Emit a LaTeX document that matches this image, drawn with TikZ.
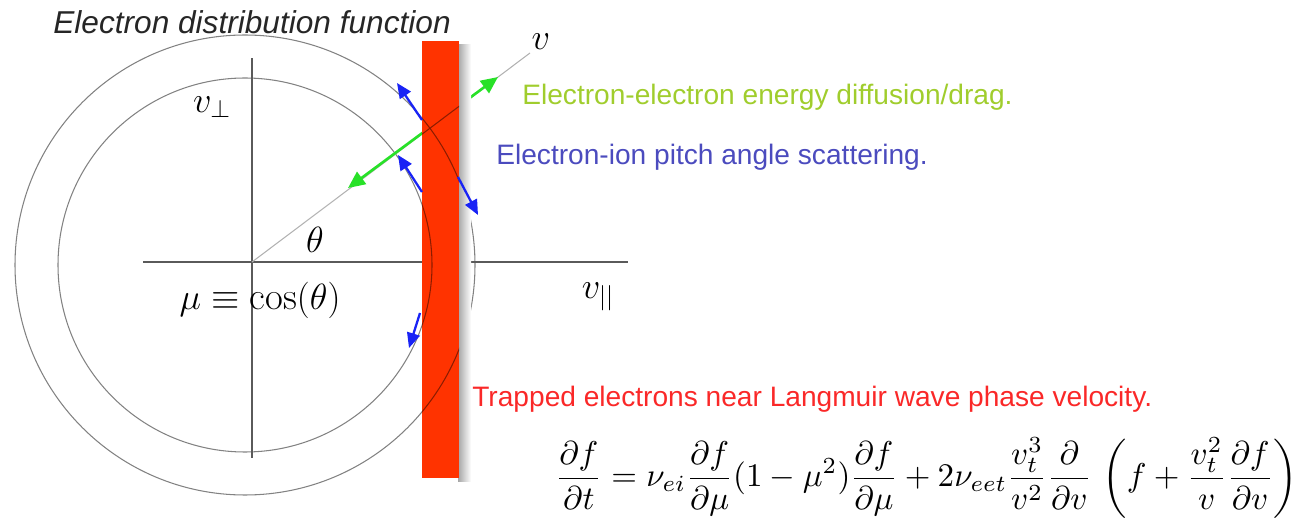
\documentclass[tikz,border=0pt]{standalone}
\usepackage{fontspec}
\setsansfont{Liberation Sans}
\usetikzlibrary{arrows.meta,positioning}
\definecolor{barred}{RGB}{255,51,0}
\definecolor{arrowblue}{RGB}{25,35,245}
\definecolor{arrowgreen}{RGB}{40,225,40}
\definecolor{eetext}{RGB}{160,205,45}
\definecolor{eitext}{RGB}{75,75,190}
\definecolor{traptext}{RGB}{250,40,40}
\definecolor{axisgray}{RGB}{90,90,90}
\definecolor{circgray}{RGB}{130,130,130}

\begin{document}
\begin{tikzpicture}[
  axis/.style={draw=axisgray,line width=0.8pt},
  shell/.style={draw=circgray,line width=0.6pt},
  scatter/.style={draw=arrowblue,line width=1.3pt,-{Triangle[length=0.3cm,width=0.26cm]}},
  drag/.style={draw=arrowgreen,line width=1.5pt,{Triangle[length=0.34cm,width=0.3cm]}-{Triangle[length=0.34cm,width=0.3cm]}},
  mathlbl/.style={font=\fontsize{22}{26}\selectfont,inner sep=0pt},
  note/.style={font=\sffamily\fontsize{16}{19}\selectfont,anchor=west,inner sep=0pt}
]
\useasboundingbox (0,0) rectangle (26.12,10.42);
% velocity space
\coordinate (O) at (5.04,5.18);
\coordinate (C) at (4.90,5.12);
\coordinate (xl) at (2.86,5.18);
\coordinate (xr) at (12.56,5.18);
\coordinate (yt) at (5.04,9.26);
\coordinate (yb) at (5.04,1.26);
\coordinate (vtip) at (10.60,9.36);
\draw[shell] (C) circle (3.74cm);
\draw[shell] (C) circle (4.60cm);
\draw[axis] (xl) -- (xr);
\draw[axis] (yb) -- (yt);
\draw[draw=gray!60,line width=0.6pt] (O) -- (vtip);

\node[mathlbl] (vperp) at (4.24,8.28) {$v_\perp$};
\node[mathlbl] (theta) at (6.30,5.62) {$\theta$};
\node[mathlbl] (mu) at (5.20,4.42) {$\mu\equiv\cos(\theta)$};
\node[mathlbl] (vpar) at (11.96,4.48) {$v_{||}$};
\node[mathlbl] (vlbl) at (10.82,9.58) {$v$};
\node[font=\sffamily\itshape\fontsize{18}{22}\selectfont,text=black!85,inner sep=0pt]
  (title) at (5.04,9.98) {Electron distribution function};

% energy diffusion along v
\coordinate (g1) at (6.96,6.66);
\coordinate (g2) at (9.96,8.88);
\draw[drag] (g1) -- (g2);

% trapping region
\fill[left color=gray!70,right color=white] (9.16,0.78) rectangle (9.42,9.52);
\node[fill=barred,minimum width=0.74cm,minimum height=8.74cm,inner sep=0pt,outer sep=0pt]
  (bar) at (8.81,5.23) {};
\begin{scope}
  \clip (bar.south west) rectangle (bar.north east);
  \draw[black,opacity=0.45,line width=0.6pt] (C) circle (3.74cm) (C) circle (4.60cm) (O) -- (vtip);
\end{scope}

% pitch angle scattering
\coordinate (s1) at (8.44,8.02); \coordinate (t1) at (7.94,8.76);
\coordinate (s2) at (8.44,6.58); \coordinate (t2) at (7.96,7.32);
\coordinate (s3) at (9.16,6.88); \coordinate (t3) at (9.56,6.12);
\coordinate (s4) at (8.40,4.16); \coordinate (t4) at (8.18,3.46);
\draw[scatter] (s1) -- (t1);
\draw[scatter] (s2) -- (t2);
\draw[scatter] (s3) -- (t3);
\draw[scatter] (s4) -- (t4);

\node[note,text=eetext] (ee) at (10.44,8.48) {Electron-electron energy diffusion/drag.};
\node[note,text=eitext] (ei) at (9.92,7.28) {Electron-ion pitch angle scattering.};
\node[note,text=traptext] (trap) at (9.44,2.44) {Trapped electrons near Langmuir wave phase velocity.};

\node[anchor=west,inner sep=0pt] (eq) at (11.10,0.86)
  {\resizebox{14.85cm}{!}{$\displaystyle \frac{\partial f}{\partial t}=\nu_{ei}\frac{\partial f}{\partial\mu}(1-\mu^2)\frac{\partial f}{\partial\mu}+2\nu_{eet}\frac{v_t^3}{v^2}\frac{\partial}{\partial v}\,\left(f+\frac{v_t^2}{v}\frac{\partial f}{\partial v}\right)$}};
\end{tikzpicture}
\end{document}
